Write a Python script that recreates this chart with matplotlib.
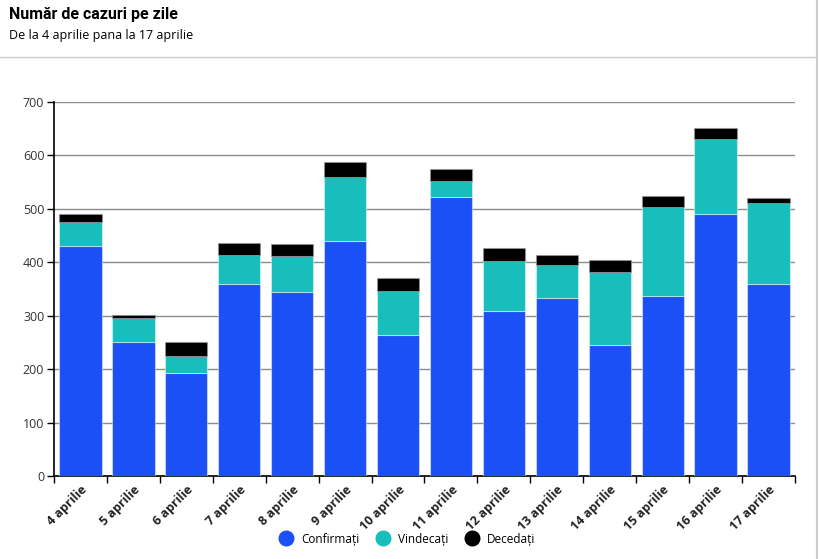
#Grafic cu numarul de cazuri pe zile (4 - 17 aprilie)

import matplotlib.pyplot as plt
from matplotlib.lines import Line2D
import numpy as np

zile = ["4 aprilie", "5 aprilie", "6 aprilie", "7 aprilie", "8 aprilie",
        "9 aprilie", "10 aprilie", "11 aprilie", "12 aprilie", "13 aprilie",
        "14 aprilie", "15 aprilie", "16 aprilie", "17 aprilie"]
confirmati = [430, 251, 193, 360, 344, 440, 264, 523, 309, 333, 246, 337, 491, 360]
vindecati = [45, 44, 32, 54, 67, 119, 82, 29, 94, 62, 136, 166, 140, 151]
decedati = [15, 6, 26, 22, 24, 29, 24, 22, 24, 18, 22, 21, 20, 9]

serii = ["Confirmați", "Vindecați", "Decedați"]
culori = ["#1a50f5", "#17bebb", "#000000"]

if __name__ == "__main__":

    plt.rcParams['font.family'] = ['Open Sans', 'DejaVu Sans']

    fig = plt.figure(figsize=(8.2, 5.59), dpi=100)
    ax = fig.add_axes([54 / 820, 83 / 559, 741 / 820, 374 / 559])

    x = np.arange(len(zile))
    c = np.array(confirmati)
    v = np.array(vindecati)
    d = np.array(decedati)

    edge = (1, 1, 1, 0.45)
    ax.bar(x, c, width=0.8, color=culori[0], edgecolor=edge, linewidth=0.8, zorder=3)
    ax.bar(x, v, width=0.8, bottom=c, color=culori[1], edgecolor=edge, linewidth=0.8, zorder=3)
    ax.bar(x, d, width=0.8, bottom=c + v, color=culori[2], edgecolor=(0.6, 0.6, 0.6, 0.6),
           linewidth=0.8, zorder=3)

    ax.set_xlim(-0.5, len(zile) - 0.5)
    ax.set_ylim(0, 700)
    ax.set_yticks(range(0, 701, 100))
    ax.yaxis.grid(True, color="#8c8c8c", linewidth=1)
    ax.set_axisbelow(True)

    ax.set_xticks(x)
    ax.set_xticklabels(zile, rotation=45, ha="right", rotation_mode="anchor",
                       fontsize=9, fontweight="bold", color="#222222")
    ax.tick_params(axis="x", length=0, pad=5)
    ax.set_xticks(np.arange(-0.5, len(zile), 1), minor=True)
    ax.tick_params(axis="x", which="minor", length=5, width=1, color="black")
    ax.tick_params(axis="y", length=5, width=1, labelsize=9, labelcolor="#333333", pad=2)

    for s in ["top", "right"]:
        ax.spines[s].set_visible(False)
    ax.spines["left"].set_linewidth(1.2)
    ax.spines["bottom"].set_linewidth(1.2)

    # antet
    fig.text(9 / 820, 1 - 14 / 559, "Număr de cazuri pe zile", fontsize=11.5,
             fontweight="bold", va="center", ha="left", family=["Roboto", "DejaVu Sans"])
    fig.text(9 / 820, 1 - 35 / 559, "De la 4 aprilie pana la 17 aprilie", fontsize=9,
             va="center", ha="left")
    fig.add_artist(Line2D([0, 815 / 820], [1 - 57 / 559, 1 - 57 / 559],
                          color="#cccccc", linewidth=1, transform=fig.transFigure))
    fig.add_artist(Line2D([817 / 820, 817 / 820], [0, 1],
                          color="#cccccc", linewidth=1.5, transform=fig.transFigure))

    # legenda
    handles = [Line2D([], [], marker="o", linestyle="", markersize=10.5,
                      markerfacecolor=col, markeredgecolor=col) for col in culori]
    fig.legend(handles, serii, loc="center", bbox_to_anchor=(407 / 820, 1 - 539 / 559),
               ncol=3, frameon=False, fontsize=8.5, handletextpad=0.7, columnspacing=1.4,
               handlelength=1.2)

    plt.savefig("out.png", dpi=100)
